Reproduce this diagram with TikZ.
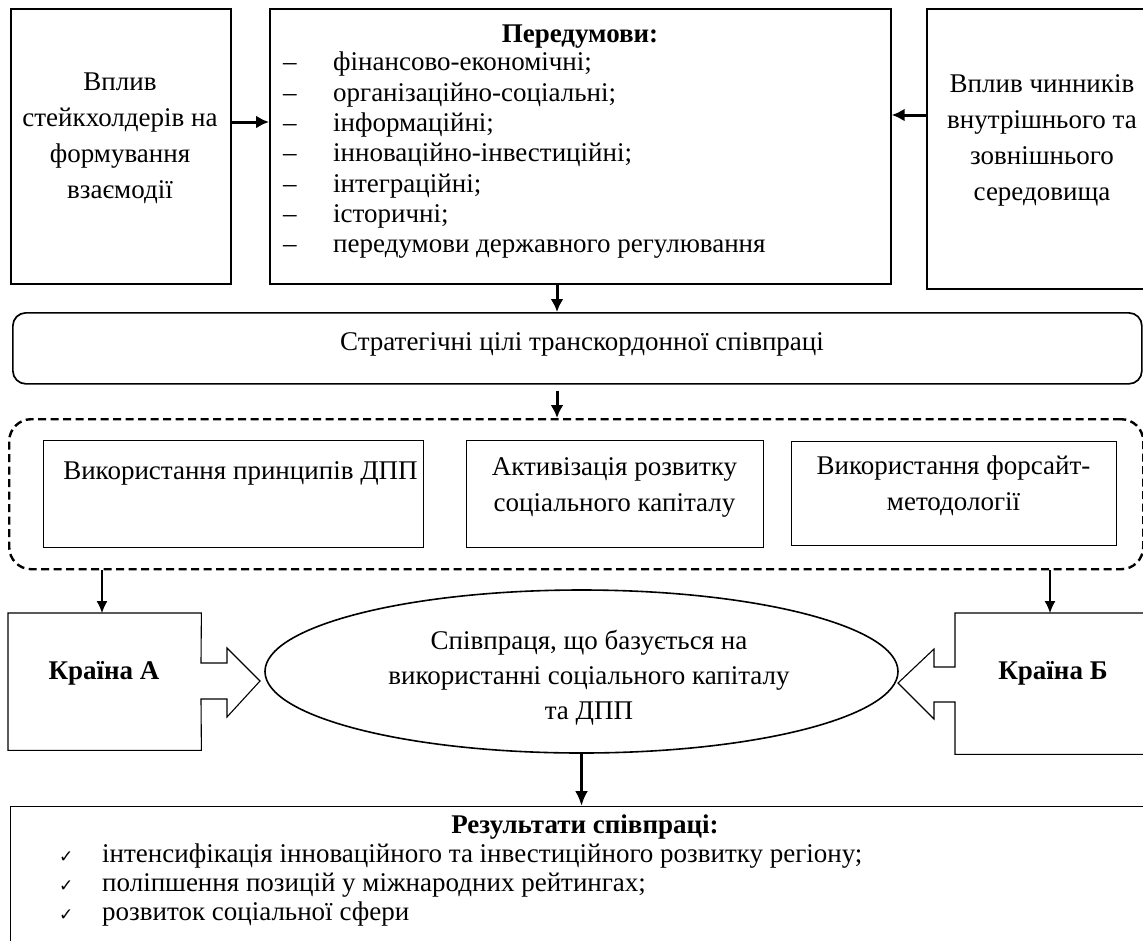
\documentclass[tikz,border=0pt]{standalone}
\usepackage{fontspec}
\setmainfont{Liberation Serif}
\newfontfamily\symfont{DejaVu Sans}
\usetikzlibrary{shapes.geometric,arrows.meta,calc}
\tikzset{
  outerbox/.style={draw, line width=1.7pt, inner sep=0pt, anchor=north west},
  innerbox/.style={draw, line width=1.1pt, inner sep=0pt, anchor=north west},
  plainbox/.style={inner sep=0pt, anchor=north west},
  txt/.style={inner sep=0pt, align=center, font=\fontsize{27}{36}\selectfont},
  boldtxt/.style={inner sep=0pt, align=center, font=\fontsize{27}{36}\selectfont\bfseries},
  listtxt/.style={inner sep=0pt, align=left, anchor=north west},
  arr/.style={line width=3pt, -{Latex[length=13pt,width=13pt]}},
  thinarr/.style={line width=1.2pt, -{Latex[length=12pt,width=11pt]}},
  grpbox/.style={draw, line width=2.4pt, dash pattern=on 8pt off 4.5pt, rounded corners=22pt, inner sep=0pt, anchor=north west},
  blockline/.style={line width=1.1pt, line join=miter},
}
\begin{document}
\begin{tikzpicture}[x=1pt,y=-1pt]
\useasboundingbox (0,0) rectangle (1143,940);
\clip (0,0) rectangle (1143,940);

% top row
\node[outerbox, minimum width=220pt, minimum height=275pt] (b1) at (10,8) {};
\node[outerbox, minimum width=621pt, minimum height=275pt] (pre) at (269,8) {};
\node[outerbox, minimum width=240pt, minimum height=280pt] (b3) at (926,8) {};

\node[txt] (b1t) at (120,138) {Вплив\\стейкхолдерів на\\формування\\взаємодії};
\node[txt] (b3t) at (1042,140) {Вплив чинників\\внутрішнього та\\зовнішнього\\середовища};
\node[boldtxt] (pret) at (580,37) {Передумови:};
\node[listtxt, font=\fontsize{27}{30.3}\selectfont] (prel) at (283,52)
 {\makebox[50pt][l]{–}фінансово-економічні;\\
  \makebox[50pt][l]{–}організаційно-соціальні;\\
  \makebox[50pt][l]{–}інформаційні;\\
  \makebox[50pt][l]{–}інноваційно-інвестиційні;\\
  \makebox[50pt][l]{–}інтеграційні;\\
  \makebox[50pt][l]{–}історичні;\\
  \makebox[50pt][l]{–}передумови державного регулювання};

\coordinate (h1) at (0,122);
\coordinate (h2) at (0,115);
\draw[arr] (b1.east |- h1) -- (pre.west |- h1);
\draw[arr] (b3.west |- h2) -- (pre.east |- h2);

% strategic goals
\node[outerbox, rounded corners=13pt, minimum width=1129pt, minimum height=71pt] (strat) at (12,312) {};
\node[txt] (stratt) at (582,344) {Стратегічні цілі транскордонної співпраці};
\coordinate (v1) at (557,0);
\draw[arr] (pre.south -| v1) -- (strat.north -| v1);

% dashed group
\node[grpbox, minimum width=1134pt, minimum height=150pt] (grp) at (8,418) {};
\draw[arr, shorten <=6pt] (strat.south -| v1) -- (grp.north -| v1);
\node[innerbox, minimum width=380pt, minimum height=107pt] (in1) at (43,440) {};
\node[innerbox, minimum width=297pt, minimum height=107pt] (in2) at (466,440) {};
\node[innerbox, minimum width=325pt, minimum height=104pt] (in3) at (791,441) {};
\node[txt] (in1t) at (240.5,473) {Використання принципів ДПП};
\node[txt] (in2t) at (614.5,487) {Активізація розвитку\\соціального капіталу};
\node[txt] (in3t) at (953.5,486) {Використання форсайт-\\методології};

% countries
\node[plainbox, minimum width=193pt, minimum height=137pt] (ka) at (8,613) {};
\node[plainbox, minimum width=200pt, minimum height=141pt] (kb) at (955,613) {};
\node[boldtxt] (kat) at (104,673) {Країна А};
\node[boldtxt] (kbt) at (1053,673) {Країна Б};
\draw[blockline] (ka.north west) -- (ka.north east) -- (201,663) -- (227,663) -- (227,648)
  -- (260,681) -- (227,717) -- (227,699) -- (201,699) -- (ka.south east) -- (ka.south west) -- cycle;
\draw[blockline] (kb.north east) -- (kb.north west) -- (955,667) -- (934,667) -- (934,649)
  -- (898,683) -- (934,719) -- (934,702) -- (955,702) -- (kb.south west) -- (kb.south east);
\coordinate (v2) at (102,0);
\coordinate (v3) at (1050,0);
\draw[thinarr] (grp.south -| v2) -- (ka.north -| v2);
\draw[thinarr] (grp.south -| v3) -- (kb.north -| v3);

% ellipse
\node[ellipse, draw, line width=1.6pt, inner sep=0pt, minimum width=633pt, minimum height=163pt] (ell) at (581.5,671.5) {};
\node[txt, font=\fontsize{27}{35}\selectfont] (ellt) at (589,678) {Співпраця, що базується на\\використанні соціального капіталу\\та ДПП};

% results
\node[outerbox, line width=1.3pt, minimum width=1145pt, minimum height=150pt] (res) at (10,806) {};
\draw[arr, -{Latex[length=15pt,width=13pt]}] (ell.south) -- (res.north -| ell.south);
\node[boldtxt] (rest) at (585,827) {Результати співпраці:};
\node[listtxt, font=\fontsize{27}{28.8}\selectfont] (resl) at (59,844)
 {\makebox[43pt][l]{\symfont\fontsize{17}{17}\selectfont ✓}інтенсифікація інноваційного та інвестиційного розвитку регіону;\\
  \makebox[43pt][l]{\symfont\fontsize{17}{17}\selectfont ✓}поліпшення позицій у міжнародних рейтингах;\\
  \makebox[43pt][l]{\symfont\fontsize{17}{17}\selectfont ✓}розвиток соціальної сфери};
\end{tikzpicture}
\end{document}
